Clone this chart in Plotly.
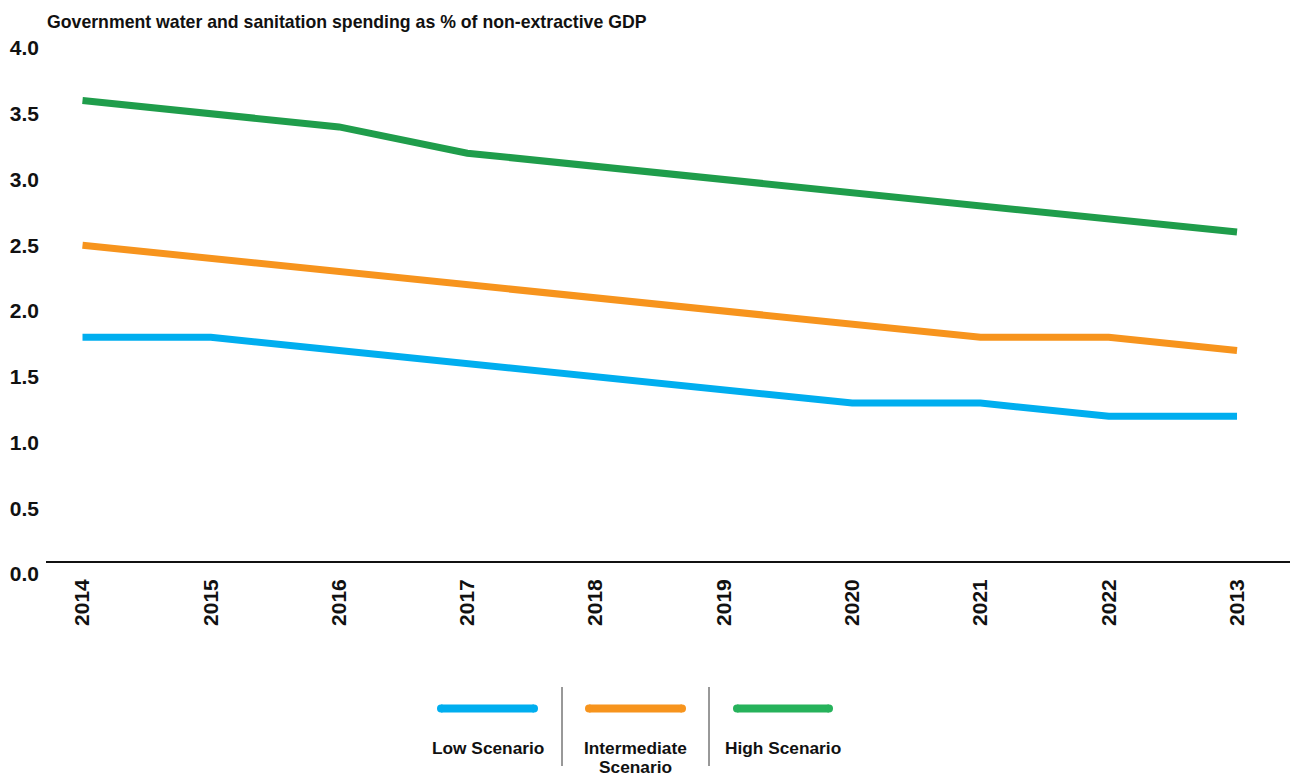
import plotly.graph_objects as go

# Chart data
years = ["2014", "2015", "2016", "2017", "2018", "2019", "2020", "2021", "2022", "2013"]
low_scenario = [1.8, 1.8, 1.7, 1.6, 1.5, 1.4, 1.3, 1.3, 1.2, 1.2]
intermediate_scenario = [2.5, 2.4, 2.3, 2.2, 2.1, 2.0, 1.9, 1.8, 1.8, 1.7]
high_scenario = [3.6, 3.5, 3.4, 3.2, 3.1, 3.0, 2.9, 2.8, 2.7, 2.6]
y_ticks = [0.0, 0.5, 1.0, 1.5, 2.0, 2.5, 3.0, 3.5, 4.0]

series_names = ["Low Scenario", "Intermediate<br>Scenario", "High Scenario"]
series_values = [low_scenario, intermediate_scenario, high_scenario]
line_colors = ["#00AEEF", "#F7941D", "#1F9D4B"]
swatch_colors = ["#00AEEF", "#F7941D", "#26B25B"]

W, H = 1290, 778
M_L, M_R, M_T, M_B = 46, 0, 48, 204
PW = W - M_L - M_R
PH = H - M_T - M_B

FONT = "Liberation Sans, Arial, Helvetica, sans-serif"
INK = "#111111"


def px_x(x):
    return (x - M_L) / PW


def px_y(y):
    return (H - M_B - y) / PH


fig = go.Figure()
for name, vals, col in zip(series_names, series_values, line_colors):
    fig.add_trace(go.Scatter(
        x=years, y=vals, mode="lines", name=name.replace("<br>", " "),
        line=dict(color=col, width=7), showlegend=False,
        hoverinfo="x+y",
    ))

shapes = []
annotations = []

# Baseline rule across the bottom of the plot
shapes.append(dict(type="line", xref="paper", yref="paper",
                   x0=0, x1=1, y0=px_y(562), y1=px_y(562),
                   line=dict(color=INK, width=2)))

# Custom legend: swatches, separators and labels
swatch_spans = [(437, 538), (585, 686), (733, 833)]
label_centers = [488, 635, 783]
sw_y = 708.5
for (x0, x1), col in zip(swatch_spans, swatch_colors):
    r = 4
    shapes.append(dict(type="line", xref="paper", yref="paper",
                       x0=px_x(x0 + r), x1=px_x(x1 - r), y0=px_y(sw_y), y1=px_y(sw_y),
                       line=dict(color=col, width=8)))
    for cx in (x0 + r, x1 - r):
        shapes.append(dict(type="circle", xref="paper", yref="paper",
                           x0=px_x(cx - r), x1=px_x(cx + r),
                           y0=px_y(sw_y + r), y1=px_y(sw_y - r),
                           fillcolor=col, line=dict(width=0)))

for sx in (562, 709):
    shapes.append(dict(type="line", xref="paper", yref="paper",
                       x0=px_x(sx), x1=px_x(sx), y0=px_y(687), y1=px_y(766),
                       line=dict(color="#333333", width=1)))

# Legend labels, one annotation per text line with a tight line pitch
line_pitch = 19
for name, cx in zip(series_names, label_centers):
    for i, part in enumerate(name.split("<br>")):
        annotations.append(dict(
            text=part, xref="paper", yref="paper",
            x=px_x(cx), y=px_y(747.5 + i * line_pitch),
            xanchor="center", yanchor="middle", showarrow=False,
            font=dict(family=FONT, size=17.3, color=INK, weight="bold"),
        ))

# Title above the value axis
annotations.append(dict(
    text="Government water and sanitation spending as % of non-extractive GDP",
    xref="paper", yref="paper", x=px_x(45), y=px_y(22),
    xanchor="left", yanchor="middle", showarrow=False,
    font=dict(family=FONT, size=17.7, color=INK, weight="bold"),
))

fig.update_layout(
    width=W, height=H,
    margin=dict(l=M_L, r=M_R, t=M_T, b=M_B),
    paper_bgcolor="white", plot_bgcolor="white",
    shapes=shapes, annotations=annotations,
    xaxis=dict(
        type="category", categoryorder="array", categoryarray=years,
        range=[-0.2845, 9.413], showgrid=False, zeroline=False, showline=False,
        ticks="", tickangle=-90,
        tickfont=dict(family=FONT, size=21, color=INK, weight="bold"),
    ),
    yaxis=dict(
        range=[0, 4], tickvals=y_ticks, ticktext=[f"{v:.1f}" for v in y_ticks],
        showgrid=False, zeroline=False, showline=False, ticks="",
        ticklabelstandoff=6,
        tickfont=dict(family=FONT, size=21, color=INK, weight="bold"),
    ),
)

fig.write_html("out.html")
